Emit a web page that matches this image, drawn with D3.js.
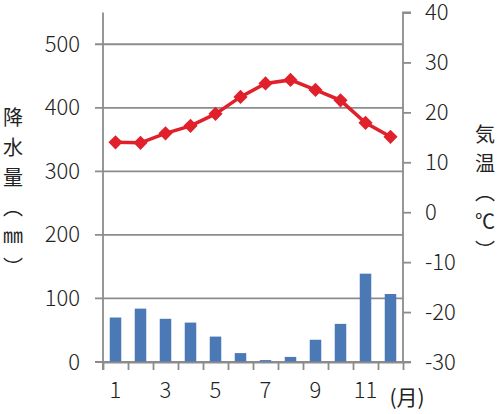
<!DOCTYPE html>
<html>
<head>
<meta charset="utf-8">
<script src="https://cdn.jsdelivr.net/npm/d3@7"></script>
<style>
  body { margin: 0; background: #fff; }
  text { font-family: "Noto Sans CJK JP", "Noto Sans", sans-serif; fill: #222; }
</style>
</head>
<body>
<div id="vis-holder"></div>
<script>
// chart data
const months = [1, 2, 3, 4, 5, 6, 7, 8, 9, 10, 11, 12];
const rainfall = [70, 84, 68, 62, 40, 14, 3, 8, 35, 60, 139, 107];
const temperature = [14.0, 13.9, 15.8, 17.3, 19.7, 23.1, 25.8, 26.5, 24.5, 22.4, 17.9, 15.1];
const rainTicks = [0, 100, 200, 300, 400, 500];
const tempTicks = [-30, -20, -10, 0, 10, 20, 30, 40];
const monthLabels = [1, 3, 5, 7, 9, 11];

const width = 500;
const height = 414;
const margin = { top: 12.5, right: 97, bottom: 52, left: 103 };

const svg = d3.select("#vis-holder")
  .append("svg")
  .attr("width", width)
  .attr("height", height);

// scales
const x = d3.scaleBand()
  .domain(months)
  .range([margin.left, width - margin.right]);

// linear version of x for the tick marks between months
const xEdge = d3.scaleLinear()
  .domain([0.5, 12.5])
  .range([margin.left, width - margin.right]);

const yRain = d3.scaleLinear()
  .domain([0, 550])
  .range([height - margin.bottom, margin.top]);

const yTemp = d3.scaleLinear()
  .domain([-30, 40])
  .range([height - margin.bottom, margin.top]);

const gray = "#8c8c8c";

// gridlines (with small tick stub left of the axis)
svg.append("g")
  .selectAll("line")
  .data(rainTicks)
  .enter()
  .append("line")
  .attr("x1", margin.left - 8)
  .attr("x2", width - margin.right)
  .attr("y1", (d) => yRain(d))
  .attr("y2", (d) => yRain(d))
  .attr("stroke", gray)
  .attr("stroke-width", 1.8);

// bars
const barW = x.bandwidth() * 0.46;
svg.append("g")
  .selectAll("rect")
  .data(months)
  .enter()
  .append("rect")
  .attr("x", (d) => x(d) + (x.bandwidth() - barW) / 2)
  .attr("y", (d, i) => yRain(rainfall[i]))
  .attr("width", barW)
  .attr("height", (d, i) => yRain(0) - yRain(rainfall[i]))
  .attr("fill", "#4a79b6");

// left axis
svg.append("g")
  .attr("transform", `translate(${margin.left},0)`)
  .call(d3.axisLeft(yRain).tickValues(rainTicks).tickSize(0).tickPadding(23))
  .call((g) => g.select(".domain").remove())
  .call((g) => g.selectAll("text")
    .attr("font-size", "22px")
    .attr("font-family", "'Noto Sans CJK JP', sans-serif")
    .attr("font-weight", 300)
    .attr("fill", "#222"));

svg.append("line")
  .attr("x1", margin.left).attr("x2", margin.left)
  .attr("y1", margin.top).attr("y2", height - margin.bottom + 8)
  .attr("stroke", gray).attr("stroke-width", 1.8);

// right axis (plain hyphen for negatives, like the original)
svg.append("g")
  .attr("transform", `translate(${width - margin.right},0)`)
  .call(d3.axisRight(yTemp).tickValues(tempTicks).tickSize(8).tickPadding(14).tickFormat((d) => String(d)))
  .call((g) => g.selectAll("line, .domain").attr("stroke", gray).attr("stroke-width", 1.8))
  .call((g) => g.select(".domain").attr("d", `M8,${margin.top}H0V${height - margin.bottom}H8`))
  .call((g) => g.selectAll("text")
    .attr("font-size", "22px")
    .attr("font-family", "'Noto Sans CJK JP', sans-serif")
    .attr("font-weight", 300)
    .attr("fill", "#222"));

// bottom axis: tick marks at month boundaries
svg.append("g")
  .attr("transform", `translate(0,${height - margin.bottom})`)
  .call(d3.axisBottom(xEdge).tickValues(d3.range(0.5, 13, 1)).tickFormat("").tickSize(8).tickSizeOuter(0))
  .call((g) => g.selectAll("line, .domain").attr("stroke", gray).attr("stroke-width", 1.8));

// month labels
svg.append("g")
  .selectAll("text")
  .data(monthLabels)
  .enter()
  .append("text")
  .attr("x", (d) => x(d) + x.bandwidth() / 2)
  .attr("y", height - margin.bottom + 30)
  .attr("dominant-baseline", "middle")
  .attr("text-anchor", "middle")
  .attr("font-size", "22px")
  .attr("font-weight", 300)
  .text((d) => d);

svg.append("text")
  .attr("x", 407)
  .attr("y", 399)
  .attr("dominant-baseline", "middle")
  .attr("text-anchor", "middle")
  .attr("font-size", "21px")
  .text("(月)");

// temperature line
const line = d3.line()
  .x((d, i) => x(months[i]) + x.bandwidth() / 2)
  .y((d) => yTemp(d));

svg.append("path")
  .datum(temperature)
  .attr("d", line)
  .attr("fill", "none")
  .attr("stroke", "#e0202a")
  .attr("stroke-width", 3.5);

svg.append("g")
  .selectAll("path")
  .data(temperature)
  .enter()
  .append("path")
  .attr("d", d3.symbol(d3.symbolSquare, 100))
  .attr("transform", (d, i) => `translate(${x(months[i]) + x.bandwidth() / 2},${yTemp(d)}) rotate(45)`)
  .attr("fill", "#e0202a");

// vertical axis titles
svg.append("text")
  .attr("x", 13)
  .attr("y", 107)
  .style("writing-mode", "vertical-rl")
  .style("letter-spacing", "10px")
  .attr("font-size", "20px")
  .text("降水量（㎜）");

svg.append("text")
  .attr("x", 485)
  .attr("y", 124)
  .style("writing-mode", "vertical-rl")
  .style("letter-spacing", "9px")
  .attr("font-size", "20px")
  .text("気温（℃）");
</script>
</body>
</html>
